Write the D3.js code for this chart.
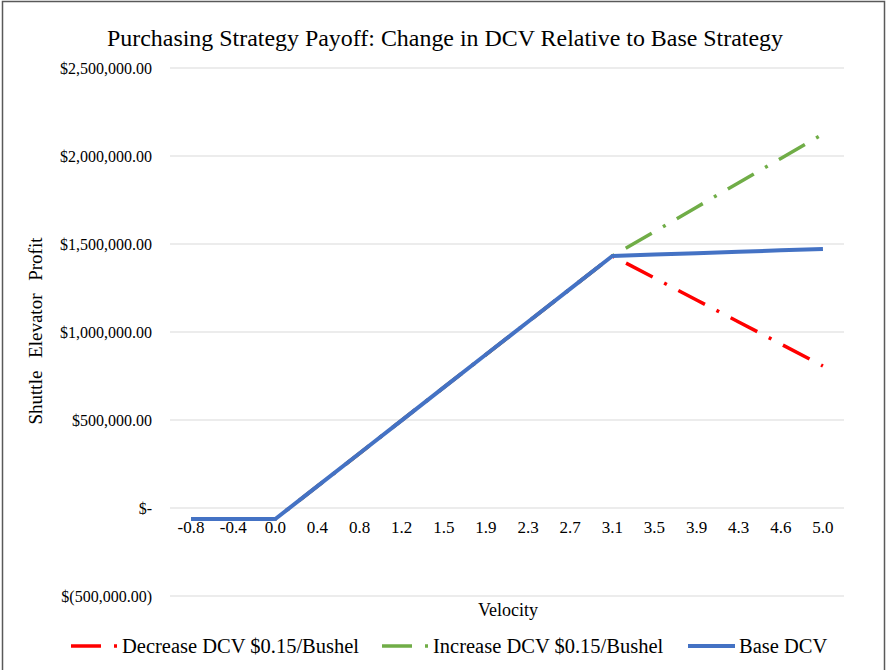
<!DOCTYPE html>
<html lang="en">
<head>
  <meta charset="utf-8">
  <script src="https://d3js.org/d3.v7.min.js"></script>
  <style>
    body { margin: 0; padding: 0; background: #fff; }
    text { font-family: "Liberation Serif", "Times New Roman", serif; fill: #000; }
  </style>
</head>
<body>
<svg id="chart" width="888" height="670"></svg>
<script>
  // velocity categories (as shown on the axis)
  var velocity = ["-0.8", "-0.4", "0.0", "0.4", "0.8", "1.2", "1.5", "1.9",
                  "2.3", "2.7", "3.1", "3.5", "3.9", "4.3", "4.6", "5.0"];

  // profit values
  var baseDCV = [-62500, -62500, -62500, 124000, 311000, 498000, 685000, 872000,
                 1058000, 1245000, 1432000, 1440000, 1448000, 1456000, 1464000, 1472000];
  var increaseDCV = [-62500, -62500, -62500, 124000, 311000, 498000, 685000, 872000,
                     1058000, 1245000, 1432000, 1570000, 1709000, 1848000, 1986000, 2125000];
  var decreaseDCV = [-62500, -62500, -62500, 124000, 311000, 498000, 685000, 872000,
                     1058000, 1245000, 1432000, 1307000, 1182000, 1057000, 932000, 807000];

  var yTicks = [-500000, 0, 500000, 1000000, 1500000, 2000000, 2500000];

  var seriesNames = ["Decrease DCV $0.15/Bushel", "Increase DCV $0.15/Bushel", "Base DCV"];

  var svg = d3.select("#chart");

  // outer border
  svg.append("rect")
    .attr("x", 2.5).attr("y", 1.5)
    .attr("width", 882).attr("height", 700)
    .attr("fill", "none")
    .attr("stroke", "#595959")
    .attr("stroke-width", 1.5);

  var x = d3.scaleBand()
    .domain(velocity)
    .range([170, 844]);

  var y = d3.scaleLinear()
    .domain([-500000, 2500000])
    .range([596, 68]);

  // gridlines
  svg.append("g")
    .selectAll("line")
    .data(yTicks)
    .enter().append("line")
    .attr("x1", 170).attr("x2", 844)
    .attr("y1", function(d) { return y(d); })
    .attr("y2", function(d) { return y(d); })
    .attr("stroke", "#d9d9d9")
    .attr("stroke-width", 1);

  // y tick labels
  var money = d3.format(",.2f");
  function fmt(v) {
    if (v === 0) return "$-";
    if (v < 0) return "$(" + money(-v) + ")";
    return "$" + money(v);
  }

  svg.append("g")
    .selectAll("text")
    .data(yTicks)
    .enter().append("text")
    .attr("x", 152)
    .attr("y", function(d) { return y(d); })
    .attr("dy", "0.35em")
    .attr("text-anchor", "end")
    .style("font-size", "16px")
    .text(fmt);

  // x tick labels (sit just under the zero line)
  svg.append("g")
    .selectAll("text")
    .data(velocity)
    .enter().append("text")
    .attr("x", function(d) { return x(d) + x.bandwidth() / 2; })
    .attr("y", y(0) + 19)
    .attr("dy", "0.35em")
    .attr("text-anchor", "middle")
    .style("font-size", "17px")
    .text(function(d) { return d; });

  var cx = function(i) { return x(velocity[i]) + x.bandwidth() / 2; };

  var line = d3.line()
    .x(function(d, i) { return cx(i); })
    .y(function(d) { return y(d); });

  var dashPattern = "30,13,3,13";
  var period = 59;

  var series = [
    {name: seriesNames[0], values: decreaseDCV, color: "#ff0000", width: 3.5, dash: dashPattern},
    {name: seriesNames[1], values: increaseDCV, color: "#70ad47", width: 3.5, dash: dashPattern},
    {name: seriesNames[2], values: baseDCV, color: "#4472c4", width: 4, dash: null}
  ];

  // length of a series path up to the 3.1 point, so the dash phase lands on a dot there
  function lengthTo(values, k) {
    var len = 0;
    for (var i = 1; i <= k; i++) {
      var dx = cx(i) - cx(i - 1), dy = y(values[i]) - y(values[i - 1]);
      len += Math.sqrt(dx * dx + dy * dy);
    }
    return len;
  }

  svg.append("g")
    .selectAll("path")
    .data(series)
    .enter().append("path")
    .attr("d", function(d) { return line(d.values); })
    .attr("fill", "none")
    .attr("stroke", function(d) { return d.color; })
    .attr("stroke-width", function(d) { return d.width; })
    .attr("stroke-dasharray", function(d) { return d.dash; })
    .attr("stroke-dashoffset", function(d) {
      if (!d.dash) return null;
      var L = lengthTo(d.values, 10);
      return ((43.5 - L) % period + period) % period;
    })
    .attr("stroke-linejoin", "round");

  // title
  svg.append("text")
    .attr("x", 445).attr("y", 38)
    .attr("dy", "0.35em")
    .attr("text-anchor", "middle")
    .style("font-size", "24px")
    .attr("textLength", 676)
    .attr("lengthAdjust", "spacingAndGlyphs")
    .text("Purchasing Strategy Payoff: Change in DCV Relative  to Base Strategy");

  // axis titles
  svg.append("text")
    .attr("x", 508).attr("y", 610)
    .attr("dy", "0.35em")
    .attr("text-anchor", "middle")
    .style("font-size", "18px")
    .text("Velocity");

  svg.append("text")
    .attr("transform", "translate(35,331) rotate(-90)")
    .attr("dy", "0.35em")
    .attr("text-anchor", "middle")
    .style("font-size", "19px")
    .style("word-spacing", "8px")
    .text("Shuttle Elevator Profit");

  // legend
  var legendX = [71, 382, 688];
  var lg = svg.append("g")
    .selectAll("g")
    .data(series)
    .enter().append("g")
    .attr("transform", function(d, i) { return "translate(" + legendX[i] + ",646)"; });

  lg.append("line")
    .attr("x1", 0).attr("x2", 47)
    .attr("y1", 0).attr("y2", 0)
    .attr("stroke", function(d) { return d.color; })
    .attr("stroke-width", function(d) { return d.width; })
    .attr("stroke-dasharray", function(d) { return d.dash; });

  lg.append("text")
    .attr("x", 51)
    .attr("dy", "0.35em")
    .style("font-size", "20.5px")
    .text(function(d) { return d.name; });
</script>
</body>
</html>
